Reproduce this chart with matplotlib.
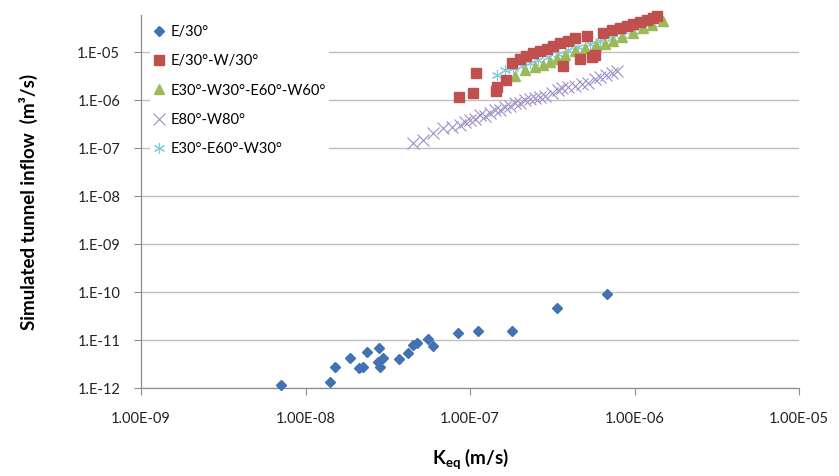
import numpy as np
import matplotlib
matplotlib.use('Agg')
import matplotlib.pyplot as plt

plt.rcParams['font.family'] = ['Lato', 'DejaVu Sans']
plt.rcParams['mathtext.fontset'] = 'custom'
plt.rcParams['mathtext.rm'] = 'Lato'
plt.rcParams['mathtext.bf'] = 'Lato:bold'

# E/30°
k_e30 = [7.10e-9, 1.41e-8, 1.51e-8, 1.86e-8, 2.12e-8, 2.24e-8, 2.37e-8, 2.80e-8, 2.76e-8,
         2.84e-8, 2.96e-8, 3.70e-8, 4.20e-8, 4.50e-8, 4.76e-8, 5.56e-8, 5.96e-8, 8.45e-8,
         1.12e-7, 1.80e-7, 3.38e-7, 6.81e-7]
q_e30 = [1.15e-12, 1.33e-12, 2.74e-12, 4.22e-12, 2.61e-12, 2.74e-12, 5.62e-12, 6.81e-12, 3.48e-12,
         2.74e-12, 4.22e-12, 4.02e-12, 5.36e-12, 7.87e-12, 8.66e-12, 1.05e-11, 7.50e-12, 1.40e-11,
         1.54e-11, 1.54e-11, 4.64e-11, 9.08e-11]

# E/30°-W/30°
k_ew30 = [8.57e-8, 1.04e-7, 1.09e-7, 1.44e-7, 1.46e-7, 1.66e-7, 1.80e-7, 2.01e-7, 2.19e-7, 2.42e-7,
          2.67e-7, 2.94e-7, 3.20e-7, 3.52e-7, 3.68e-7, 3.94e-7, 4.35e-7, 4.67e-7, 5.14e-7, 5.52e-7,
          5.75e-7, 6.44e-7, 7.30e-7, 8.17e-7, 9.00e-7, 9.79e-7, 1.08e-6, 1.19e-6, 1.29e-6, 1.37e-6]
q_ew30 = [1.15e-6, 1.40e-6, 3.65e-6, 1.54e-6, 1.87e-6, 2.61e-6, 5.90e-6, 7.15e-6, 8.25e-6, 9.53e-6,
          1.05e-5, 1.15e-5, 1.33e-5, 1.54e-5, 5.11e-6, 1.70e-5, 1.96e-5, 7.15e-6, 2.15e-5, 7.87e-6,
          8.66e-6, 2.49e-5, 2.87e-5, 3.16e-5, 3.48e-5, 3.83e-5, 4.22e-5, 4.64e-5, 5.11e-5, 5.62e-5]

# E30°-W30°-E60°-W60°
k_ew3060 = [1.88e-7, 2.16e-7, 2.48e-7, 2.78e-7, 3.06e-7, 3.38e-7, 3.78e-7, 4.35e-7, 5.00e-7,
            5.83e-7, 6.62e-7, 7.40e-7, 8.39e-7, 9.79e-7, 1.13e-6, 1.28e-6, 1.49e-6]
q_ew3060 = [3.16e-6, 4.22e-6, 4.87e-6, 5.36e-6, 6.19e-6, 7.15e-6, 8.66e-6, 1.05e-5, 1.21e-5,
            1.40e-5, 1.47e-5, 1.70e-5, 2.05e-5, 2.49e-5, 3.16e-5, 3.65e-5, 4.42e-5]

# E80°-W80°
k_ew80 = [4.50e-8, 5.18e-8, 5.96e-8, 6.85e-8, 7.78e-8, 8.69e-8, 9.33e-8, 1.00e-7, 1.07e-7, 1.15e-7,
          1.23e-7, 1.32e-7, 1.42e-7, 1.52e-7, 1.63e-7, 1.75e-7, 1.88e-7, 2.01e-7, 2.16e-7, 2.32e-7,
          2.48e-7, 2.67e-7, 2.86e-7, 3.15e-7, 3.43e-7, 3.62e-7, 3.94e-7, 4.35e-7, 4.80e-7, 5.21e-7,
          5.75e-7, 6.17e-7, 6.71e-7, 7.30e-7, 7.83e-7]
q_ew80 = [1.27e-7, 1.47e-7, 2.05e-7, 2.61e-7, 2.74e-7, 3.01e-7, 3.48e-7, 3.83e-7, 4.02e-7, 4.87e-7,
          4.64e-7, 5.36e-7, 6.19e-7, 6.19e-7, 7.15e-7, 7.50e-7, 8.66e-7, 8.66e-7, 1.00e-6, 1.05e-6,
          1.10e-6, 1.15e-6, 1.21e-6, 1.40e-6, 1.62e-6, 1.78e-6, 1.87e-6, 1.96e-6, 2.15e-6, 2.26e-6,
          2.74e-6, 3.01e-6, 3.32e-6, 3.65e-6, 4.02e-6]

# E30°-E60°-W30°
k_e3060 = [1.46e-7, 1.63e-7, 1.83e-7, 2.07e-7, 2.32e-7, 2.59e-7, 2.98e-7, 3.43e-7, 3.94e-7,
           4.54e-7, 5.36e-7, 6.17e-7, 7.30e-7, 8.39e-7, 9.79e-7, 1.13e-6, 1.28e-6]
q_e3060 = [3.32e-6, 4.22e-6, 4.64e-6, 5.11e-6, 5.90e-6, 6.81e-6, 7.87e-6, 9.08e-6, 1.10e-5,
           1.27e-5, 1.47e-5, 1.70e-5, 1.96e-5, 2.26e-5, 2.74e-5, 3.32e-5, 3.83e-5]

labels = ['E/30°', 'E/30°-W/30°', 'E30°-W30°-E60°-W60°', 'E80°-W80°', 'E30°-E60°-W30°']
x_ticks = [1e-9, 1e-8, 1e-7, 1e-6, 1e-5]
x_ticklabels = ['1.00E-09', '1.00E-08', '1.00E-07', '1.00E-06', '1.00E-05']
y_ticks = [1e-12, 1e-11, 1e-10, 1e-9, 1e-8, 1e-7, 1e-6, 1e-5]
y_ticklabels = ['1.E-12', '1.E-11', '1.E-10', '1.E-09', '1.E-08', '1.E-07', '1.E-06', '1.E-05']

fig = plt.figure(figsize=(8.39, 4.76), dpi=100)
ax = fig.add_axes([141 / 839, 1 - 388 / 476, 658 / 839, 373 / 476])

h1, = ax.plot(k_e30, q_e30, ls='none', marker='D', ms=5.6, color='#4172B4', mec='#4172B4',
              clip_on=False, zorder=3)
h2, = ax.plot(k_ew30, q_ew30, ls='none', marker='s', ms=7.2, color='#C0504D', mec='#C0504D',
              clip_on=False, zorder=5)
h3, = ax.plot(k_ew3060, q_ew3060, ls='none', marker='^', ms=7.5, color='#9BBB59', mec='#9BBB59',
              clip_on=False, zorder=4)
h4, = ax.plot(k_ew80, q_ew80, ls='none', marker='x', ms=8.5, mew=0.8, color='#9E8FC4',
              clip_on=False, zorder=3)
h5, = ax.plot(k_e3060, q_e3060, ls='none', marker=(6, 2, 0), ms=8, mew=0.8, color='#7CCBE0',
              clip_on=False, zorder=3)

ax.set_xscale('log')
ax.set_yscale('log')
ax.set_xlim(1e-9, 1e-5)
ax.set_ylim(1e-12, 10 ** (-5 + 37 / 48))

ax.set_xticks(x_ticks)
ax.set_xticklabels(x_ticklabels)
ax.set_yticks(y_ticks)
ax.set_yticklabels(y_ticklabels)
ax.minorticks_off()
ax.tick_params(axis='both', which='major', labelsize=10.5, colors='#8C8C8C', labelcolor='#222222',
               length=5, width=0.8, direction='out')
ax.tick_params(axis='y', pad=10)
ax.tick_params(axis='x', pad=12)

ax.grid(axis='y', color='#BFBFBF', lw=1.0)
ax.set_axisbelow(True)
for side in ['top', 'right']:
    ax.spines[side].set_visible(False)
for side in ['left', 'bottom']:
    ax.spines[side].set_color('#8C8C8C')
    ax.spines[side].set_linewidth(0.9)

ax.set_ylabel('Simulated tunnel inflow  (m³/s)', fontsize=13.5, fontweight='bold', labelpad=28)
ax.set_xlabel(r'$\mathbf{K_{eq}}$ (m/s)', fontsize=13.5, fontweight='bold', labelpad=15)

leg = ax.legend([h1, h2, h3, h4, h5], labels, loc='upper left',
                bbox_to_anchor=(150 / 839, 1 - 22 / 476), bbox_transform=fig.transFigure,
                frameon=True, fontsize=10.5, labelspacing=1.05, handlelength=0.9,
                handletextpad=0.3, borderpad=0.2, borderaxespad=0)
leg.get_frame().set_facecolor('white')
leg.get_frame().set_edgecolor('none')
leg.get_frame().set_alpha(1)
leg.set_zorder(6)

fig.savefig('out.png', dpi=100, facecolor='white')
